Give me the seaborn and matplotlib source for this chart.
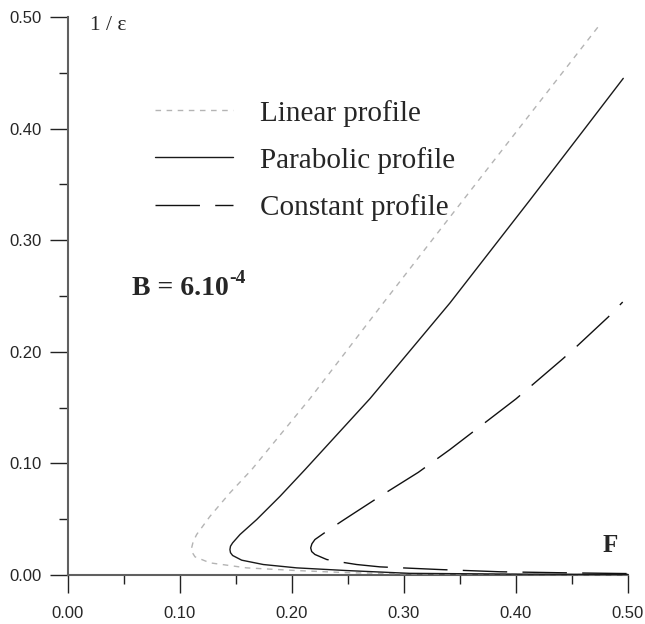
import numpy as np
import pandas as pd
import matplotlib
matplotlib.use("Agg")
import matplotlib.pyplot as plt
import seaborn as sns

# Stability curves 1/eps versus F for three velocity profiles (B = 6e-4),
# each traced along the curve: lower branch -> nose -> upper branch.
linear_F = [0.500, 0.400, 0.300, 0.2518, 0.2042, 0.1595, 0.1268, 0.1134, 0.1111,
            0.1104, 0.1118, 0.1149, 0.1268, 0.1446, 0.164, 0.216, 0.2815, 0.3366,
            0.4155, 0.474]
linear_inv_eps = [0.0003, 0.0006, 0.0012, 0.002, 0.004, 0.0064, 0.0109, 0.0163,
                  0.0200, 0.0243, 0.0300, 0.0363, 0.0526, 0.0736, 0.0944, 0.158,
                  0.2437, 0.315, 0.4167, 0.492]

parabolic_F = [0.500, 0.400, 0.305, 0.2488, 0.2042, 0.1744, 0.1551, 0.147, 0.1451,
               0.1446, 0.1451, 0.147, 0.1536, 0.1685, 0.1893, 0.2116, 0.2696,
               0.341, 0.4125, 0.463, 0.4958]
parabolic_inv_eps = [0.0005, 0.0008, 0.0015, 0.004, 0.0064, 0.0094, 0.0133, 0.0175,
                     0.0200, 0.0228, 0.0258, 0.0288, 0.0363, 0.0497, 0.0705, 0.0944,
                     0.158, 0.2437, 0.336, 0.402, 0.445]

constant_F = [0.4988, 0.4423, 0.3857, 0.332, 0.2786, 0.2578, 0.2444, 0.231, 0.2205,
              0.2176, 0.2167, 0.2178, 0.2205, 0.231, 0.2444, 0.2548, 0.2786,
              0.3128, 0.341, 0.400, 0.4417, 0.4527, 0.4824, 0.4953]
constant_inv_eps = [0.0013, 0.002, 0.0029, 0.0049, 0.0073, 0.0094, 0.0115, 0.0139,
                    0.0184, 0.0210, 0.0243, 0.0280, 0.0318, 0.0392, 0.0482, 0.0550,
                    0.0705, 0.092, 0.1124, 0.1578, 0.1936, 0.2034, 0.2312, 0.2446]

series_names = ["Linear profile", "Parabolic profile", "Constant profile"]

frames = []
for name, fx, fy in zip(series_names,
                        [linear_F, parabolic_F, constant_F],
                        [linear_inv_eps, parabolic_inv_eps, constant_inv_eps]):
    frames.append(pd.DataFrame({"F": fx, "inv_eps": fy, "profile": name}))
data = pd.concat(frames, ignore_index=True)

sns.set_style("ticks")
plt.rcParams["font.family"] = ["Liberation Sans", "DejaVu Sans"]

fig = plt.figure(figsize=(6.45, 6.24), dpi=100)
ax = fig.add_axes([0.1054, 0.0785, 0.8682, 0.8943])

palette = {"Linear profile": "#b4b4b4",
           "Parabolic profile": "#1a1a1a",
           "Constant profile": "#111111"}
dashes = {"Linear profile": (4, 4),
          "Parabolic profile": "",
          "Constant profile": (32, 11)}

sns.lineplot(data=data, x="F", y="inv_eps", hue="profile", style="profile",
             palette=palette, dashes=dashes, sort=False, estimator=None,
             linewidth=1.0, ax=ax, hue_order=series_names,
             style_order=series_names)

for line in ax.get_lines():
    line.set_zorder(3)
    line.set_clip_on(False)
    line.set_solid_joinstyle("round")
    line.set_dash_joinstyle("round")

ax.set_xlim(0, 0.5)
ax.set_ylim(0, 0.5)
ax.set_xlabel("")
ax.set_ylabel("")

major = np.arange(0, 0.501, 0.1)
minor = np.arange(0.05, 0.5, 0.1)
ax.set_xticks(major)
ax.set_yticks(major)
ax.set_xticks(minor, minor=True)
ax.set_yticks(minor, minor=True)
ax.set_xticklabels([f"{v:.2f}" for v in major])
ax.set_yticklabels([f"{v:.2f}" for v in major])
ax.tick_params(which="major", length=13, width=1.0, color="#222222",
               labelsize=12, direction="out")
ax.tick_params(axis="x", which="major", pad=9)
ax.tick_params(axis="y", which="major", pad=6)
ax.tick_params(which="minor", length=6.5, width=1.0, color="#222222",
               direction="out")

for side in ["top", "right"]:
    ax.spines[side].set_visible(False)
for side in ["left", "bottom"]:
    ax.spines[side].set_color("#606060")
    ax.spines[side].set_linewidth(1.5)

serif = ["Liberation Serif", "DejaVu Serif"]
ax.text(0.02, 0.492, "1 / ε", family=serif, fontsize=15.5, va="center",
        ha="left")
ax.text(0.484, 0.026, "F", family=serif, fontsize=18, fontweight="bold",
        va="center", ha="center")

b_text = ax.text(0.057, 0.251, "B = 6.10", family=serif, fontsize=20,
                 fontweight="bold", va="baseline", ha="left")
ax.annotate("-4", xy=(1, 0), xycoords=b_text, xytext=(0.5, 13),
            textcoords="offset points", family=serif, fontsize=14,
            fontweight="bold", va="baseline", ha="left")

ax.legend(loc="upper left", bbox_to_anchor=(0.1554, 0.852),
          frameon=False, borderpad=0, borderaxespad=0,
          handlelength=2.67, handletextpad=0.92, labelspacing=0.69,
          prop={"family": serif, "size": 21})

fig.savefig("out.png", dpi=100)
